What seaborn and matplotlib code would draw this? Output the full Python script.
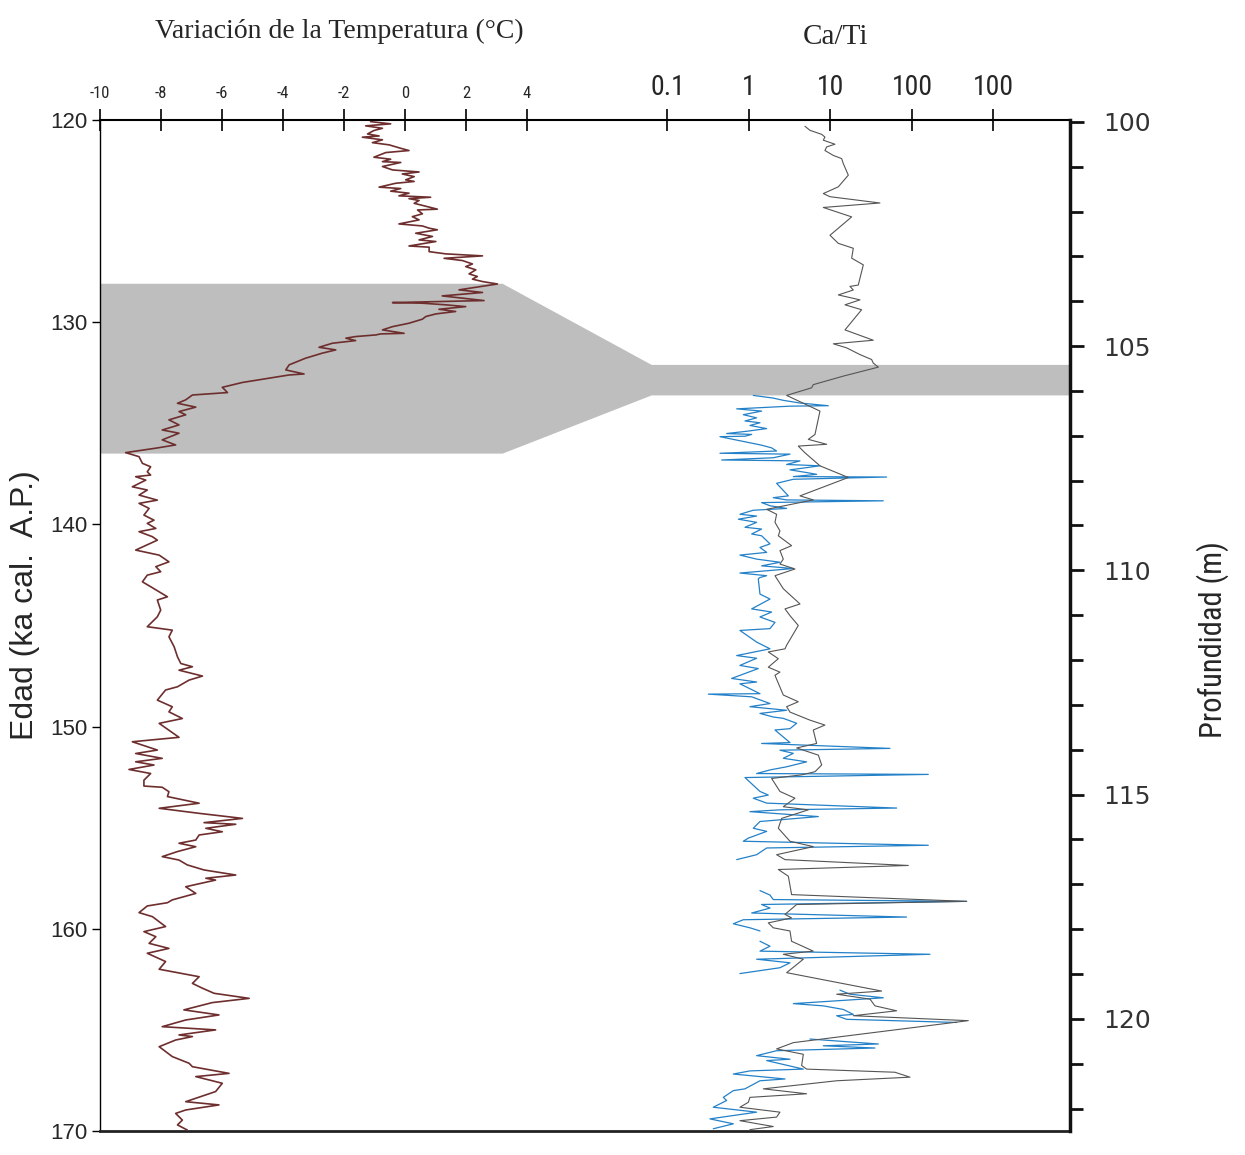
import numpy as np
import matplotlib
matplotlib.use("Agg")
import matplotlib.pyplot as plt
import seaborn as sns
from matplotlib.patches import Polygon
from matplotlib.ticker import FixedLocator, MultipleLocator, NullLocator
from matplotlib import font_manager

# ---------------- data ----------------
# Temperature anomaly (deg C) against age (ka cal. A.P.)
temp_age = [120.08, 120.19, 120.29, 120.41, 120.52, 120.69, 120.79, 120.85, 120.98, 121.12,
            121.23, 121.40, 121.51, 121.56, 121.61, 121.84, 121.94, 122.06, 122.10, 122.30,
            122.47, 122.57, 122.67, 122.80, 122.96, 123.04, 123.13, 123.32, 123.39, 123.52,
            123.62, 123.75, 123.82, 123.89, 123.98, 124.12, 124.41, 124.45, 124.64, 124.78,
            124.94, 125.14, 125.24, 125.35, 125.43, 125.60, 125.76, 125.93, 126.01, 126.23,
            126.29, 126.51, 126.62, 126.72, 126.84, 126.95, 127.12, 127.25, 127.41, 127.61,
            127.74, 127.87, 127.99, 128.11, 128.40, 128.53, 128.70, 128.93, 129.03, 129.06,
            129.14, 129.23, 129.36, 129.47, 129.59, 129.72, 129.85, 130.05, 130.22, 130.38,
            130.55, 130.58, 130.63, 130.71, 130.79, 130.91, 131.04, 131.24, 131.37, 131.53,
            131.78, 132.11, 132.36, 132.56, 132.61, 132.77, 132.98, 133.22, 133.48, 133.60,
            133.84, 134.01, 134.20, 134.42, 134.58, 134.83, 135.08, 135.33, 135.49, 135.82,
            136.07, 136.23, 136.45, 136.65, 136.98, 137.15, 137.40, 137.56, 137.64, 137.81,
            138.14, 138.30, 138.55, 138.80, 138.96, 139.21, 139.54, 139.79, 139.95, 140.20,
            140.36, 140.61, 140.78, 141.27, 141.52, 141.85, 142.09, 142.34, 142.51, 142.84,
            143.08, 143.58, 143.74, 144.24, 144.57, 145.06, 145.23, 145.56, 146.05, 146.55,
            146.88, 147.04, 147.21, 147.50, 147.70, 148.03, 148.19, 148.69, 149.02, 149.27,
            149.60, 149.84, 150.53, 150.75, 151.16, 151.33, 151.57, 151.74, 151.90, 152.12,
            152.32, 152.65, 152.94, 153.00, 153.22, 153.46, 153.79, 154.04, 154.29, 154.54,
            154.75, 154.83, 155.03, 155.20, 155.36, 155.61, 155.77, 155.94, 156.18, 156.43,
            156.60, 156.84, 157.09, 157.34, 157.50, 157.59, 157.92, 158.25, 158.57, 158.71,
            158.87, 159.20, 159.40, 159.89, 160.14, 160.39, 160.72, 160.97, 161.21, 161.62,
            162.00, 162.37, 162.70, 162.94, 163.19, 163.44, 163.65, 164.01, 164.26, 164.51,
            164.84, 165.00, 165.25, 165.33, 165.50, 165.83, 166.32, 166.65, 166.82, 167.15,
            167.31, 167.64, 168.05, 168.55, 168.71, 168.96, 169.13, 169.46, 169.70, 169.95]
temp_val = [-1.13, -0.47, -1.29, -0.74, -1.02, -1.23, -0.85, -1.40, -0.74, -1.07,
            -0.52, -0.14, 0.13, -0.25, -0.63, -1.02, -0.47, -0.74, -0.14, -0.74,
            -0.41, 0.46, -0.09, 0.30, 0.02, 0.30, -0.31, -0.85, -0.14, -0.47,
            0.13, -0.20, 0.84, 0.13, 0.46, 0.30, 1.06, 0.41, 0.57, 0.24,
            0.46, -0.20, 0.57, 0.79, 1.06, 0.35, 0.90, 0.46, 1.01, 0.13,
            0.79, 0.79, 1.33, 2.54, 1.28, 1.88, 2.21, 1.99, 2.32, 2.10,
            2.37, 2.21, 2.54, 3.03, 1.77, 2.54, 1.22, 2.59, -0.41, 0.57,
            1.33, 1.99, 1.11, 1.66, 1.01, 0.68, 0.57, 0.13, -0.41, -0.74,
            -0.03, -0.80, -0.96, -1.62, -1.94, -1.62, -2.38, -2.82, -2.27, -2.71,
            -3.26, -3.80, -3.91, -3.31, -3.80, -4.46, -5.33, -5.99, -5.82, -6.97,
            -7.19, -7.46, -6.86, -7.41, -7.19, -7.74, -7.41, -7.96, -7.41, -7.96,
            -7.52, -8.17, -9.16, -8.72, -8.61, -8.34, -8.45, -8.34, -8.83, -8.50,
            -8.94, -8.45, -8.72, -8.12, -8.72, -8.39, -8.56, -8.23, -8.45, -8.17,
            -8.72, -8.28, -8.12, -8.83, -8.06, -7.74, -8.17, -8.01, -8.45, -8.61,
            -8.34, -7.79, -8.12, -8.01, -8.12, -8.45, -7.63, -7.74, -7.57, -7.46,
            -7.35, -6.97, -7.41, -6.64, -7.08, -7.46, -7.85, -8.12, -7.63, -7.74,
            -7.30, -8.06, -7.41, -8.94, -8.12, -8.83, -7.96, -8.83, -8.23, -9.05,
            -8.34, -8.56, -8.56, -7.96, -7.74, -7.79, -6.75, -8.06, -6.75, -5.33,
            -6.59, -5.55, -6.53, -5.99, -6.75, -6.86, -7.41, -6.86, -7.46, -7.96,
            -7.41, -7.14, -6.59, -5.55, -6.53, -6.21, -7.19, -6.86, -7.63, -7.79,
            -8.45, -8.72, -8.28, -7.85, -8.56, -8.17, -8.39, -7.74, -8.45, -7.85,
            -8.06, -6.75, -6.97, -6.64, -6.26, -5.11, -6.32, -7.25, -6.10, -7.19,
            -7.96, -6.21, -7.41, -6.97, -7.52, -8.06, -7.63, -7.08, -6.97, -5.77,
            -6.86, -5.99, -6.21, -7.19, -6.10, -7.19, -7.52, -7.30, -7.46, -7.14]

# Ca/Ti (coarse record, grey) against depth (m); values given as log10(Ca/Ti)
grey_depth = [100.10, 100.19, 100.28, 100.34, 100.41, 100.50, 100.56, 100.64, 100.75, 100.82,
              100.93, 101.19, 101.45, 101.60, 101.67, 101.81, 101.91, 102.12, 102.53, 102.71,
              102.82, 103.04, 103.19, 103.64, 103.67, 103.75, 103.86, 103.97, 104.08, 104.19,
              104.64, 104.87, 104.95, 105.04, 105.19, 105.30, 105.38, 105.47, 105.67, 105.86,
              105.93, 106.10, 106.45, 106.97, 107.08, 107.19, 107.23, 107.38, 107.67, 107.93,
              108.34, 108.43, 108.64, 108.75, 108.93, 109.12, 109.23, 109.45, 109.56, 109.75,
              109.86, 109.97, 110.12, 110.41, 110.75, 110.86, 111.01, 111.23, 111.67, 111.75,
              111.82, 111.97, 112.16, 112.27, 112.34, 112.78, 112.93, 113.04, 113.16, 113.34,
              113.45, 113.56, 113.86, 113.96, 114.12, 114.34, 114.49, 114.56, 114.64, 114.93,
              115.08, 115.27, 115.34, 115.53, 115.75, 116.04, 116.16, 116.34, 116.45, 116.58,
              116.67, 116.82, 117.23, 117.38, 117.45, 117.67, 117.75, 117.86, 117.97, 118.04,
              118.27, 118.49, 118.56, 118.67, 118.97, 119.38, 119.45, 119.56, 119.71, 119.82,
              119.93, 120.04, 120.53, 120.67, 120.79, 121.04, 121.12, 121.19, 121.30, 121.38,
              121.56, 121.67, 121.75, 121.86, 121.97, 122.08, 122.19, 122.27, 122.40, 122.47]
grey_log_ca_ti = [0.687, 0.748, 0.892, 0.932, 0.912, 1.055, 0.953, 0.932, 1.035, 1.137,
                  1.157, 1.219, 1.096, 0.912, 0.994, 1.607, 0.912, 1.260, 0.994, 1.096,
                  1.280, 1.260, 1.403, 1.341, 1.239, 1.280, 1.096, 1.362, 1.178, 1.382,
                  1.178, 1.525, 1.035, 1.198, 1.362, 1.505, 1.525, 1.587, 1.157, 0.789,
                  0.769, 0.462, 0.871, 0.810, 0.728, 0.953, 0.605, 0.687, 0.871, 1.219,
                  0.626, 0.789, 0.217, 0.339, 0.319, 0.380, 0.360, 0.523, 0.380, 0.421,
                  0.380, 0.564, 0.319, 0.421, 0.626, 0.442, 0.503, 0.605, 0.462, 0.442,
                  0.237, 0.360, 0.237, 0.380, 0.319, 0.421, 0.605, 0.462, 0.503, 0.748,
                  0.932, 0.789, 0.830, 0.585, 0.851, 0.892, 0.810, 0.646, 0.278, 0.380,
                  0.564, 0.421, 0.728, 0.401, 0.360, 0.503, 0.789, 0.339, 0.442, 1.955,
                  0.360, 0.483, 0.523, 2.671, 0.585, 0.442, 0.523, 0.237, 0.298, 0.503,
                  0.523, 0.789, 0.421, 0.667, 0.462, 1.628, 1.076, 1.485, 1.546, 1.812,
                  1.280, 2.691, 0.544, 0.339, 0.667, 0.646, 0.707, 1.791, 1.975, 1.076,
                  0.176, 0.707, 0.012, -0.008, -0.111, 0.380, 0.339, -0.111, 0.298, 0.012]

# Ca/Ti (high-resolution record, blue) against depth (m); NaN marks gaps in the record
blue_depth = [106.10, 106.16, 106.21, 106.27, 106.33, 106.34, 106.40, 106.45, 106.53, 106.60,
              106.67, 106.71, 106.77, 106.84, 106.90, 106.95, 106.97, 107.01, 107.02, 107.21,
              107.27, 107.34, 107.39, 107.41, 107.49, 107.54, 107.56, 107.64, 107.67, 107.76,
              107.82, 107.86, 107.91, 107.92, 107.97, 108.06, 108.34, 108.38, 108.43, 108.45,
              108.49, 108.56, 108.62, 108.66, 108.75, 108.79, 108.86, 108.93, 109.04, 109.08,
              109.19, 109.23, 109.41, 109.49, 109.60, 109.66, 109.75, 109.82, 109.90, 109.96,
              110.06, 110.12, 110.16, 110.19, 110.53, 110.64, 110.86, 110.93, 111.04, 111.16,
              111.30, 111.34, 111.60, 111.75, 111.90, 111.96, 112.12, 112.19, 112.41, 112.49,
              112.53, 112.75, 112.76, 112.82, 112.97, 113.04, 113.12, 113.19, 113.27, 113.30,
              113.41, 113.53, 113.56, 113.84, 113.86, 113.97, 114.01, 114.08, 114.19, 114.27,
              114.38, 114.45, 114.53, 114.55, 114.62, 114.93, 115.01, 115.08, 115.19, 115.30,
              115.34, 115.38, 115.49, 115.60, 115.75, 115.82, 115.97, 116.04, 116.13, 116.19,
              116.34, 116.45, 116.80, 117.14, 117.24, 117.34, 117.38, 117.45, 117.53, 117.64,
              117.73, 117.79, 117.88, 117.97, 118.04, 118.15, 118.27, 118.38, 118.49, 118.56,
              118.67, 118.75, 118.86, 118.99, 119.20, 119.36, 119.45, 119.53, 119.66, 119.71,
              119.79, 119.90, 119.93, 120.01, 120.08, 120.30, 120.45, 120.56, 120.60, 120.65,
              120.71, 120.82, 120.90, 120.93, 121.12, 121.16, 121.23, 121.34, 121.38, 121.56,
              121.60, 121.75, 121.82, 121.97, 122.08, 122.23, 122.34, 122.45]
blue_log_ca_ti = [0.053, 0.298, 0.421, 0.626, 0.973, 0.503, -0.151, 0.155, -0.070, 0.094,
                  -0.049, 0.135, 0.012, 0.217, -0.029, -0.274, 0.033, -0.049, -0.356, 0.155,
                  0.278, 0.339, -0.356, 0.503, 0.298, -0.335, 0.626, 0.462, 0.871, 0.503,
                  0.707, 0.830, 0.544, 1.689, 0.544, 0.339, 0.483, 0.298, 0.462, 1.648,
                  0.155, 0.258, 0.462, 0.053, -0.111, 0.094, -0.131, 0.094, -0.049, 0.155,
                  0.033, 0.155, 0.258, 0.135, 0.217, -0.111, 0.094, 0.380, 0.155, 0.544,
                  -0.111, 0.217, 0.135, 0.114, 0.135, 0.258, 0.033, 0.278, 0.135, 0.319,
                  0.258, -0.111, 0.094, 0.258, -0.151, 0.094, -0.111, 0.114, -0.213, 0.094,
                  -0.111, 0.135, -0.499, 0.033, 0.258, 0.012, 0.462, 0.135, 0.298, 0.421,
                  0.585, 0.503, 0.319, 0.503, 0.155, 1.730, 0.380, 0.544, 0.421, 0.707,
                  0.462, 0.258, 0.094, 2.200, -0.049, 0.135, 0.237, 0.053, 0.217, 1.812,
                  0.380, 0.012, 0.851, 0.135, 0.053, 0.217, -0.008, -0.070, 2.200, 0.217,
                  0.094, -0.151, np.nan, 0.135, 0.258, 0.298, 2.671, 0.155, 0.258, 0.033,
                  1.934, -0.070, -0.192, 0.012, 0.135, np.nan, 0.135, 0.258, 0.135, 2.221,
                  0.094, 0.503, 0.380, -0.111, np.nan, 1.116, 1.239, 1.648, 0.544, 0.912,
                  1.157, 1.280, 1.076, 1.198, 2.548, np.nan, 0.748, 1.587, 0.912, 1.546,
                  0.339, 0.094, 0.503, 0.217, 0.667, 0.012, -0.192, 0.442, 0.135, -0.049,
                  -0.192, -0.315, -0.274, -0.438, 0.094, -0.479, -0.192, -0.438]

# shaded correlation band: age interval (left), depth interval (right)
band_age = (128.1, 136.5)
band_depth = (105.42, 106.1)
band_temp_edge = 3.2
band_ca_ti_edge = 0.064

temp_ticks = [-10, -8, -6, -4, -2, 0, 2, 4]
ca_ti_ticks = [0.1, 1, 10, 100, 1000]
ca_ti_ticklabels = ["0.1", "1", "10", "100", "100"]
age_ticks = [120, 130, 140, 150, 160, 170]

# ---------------- fonts ----------------
installed = {f.name for f in font_manager.fontManager.ttflist}
def pick(cands):
    return [c for c in cands if c in installed] or ['DejaVu Sans']
NARROW = pick(['Liberation Sans Narrow', 'DejaVu Sans Condensed', 'Roboto Condensed',
               'Open Sans Condensed', 'Liberation Sans'])
NARROW_SERIF = pick(['DejaVu Serif Condensed', 'Liberation Serif', 'DejaVu Serif'])

# ---------------- figure ----------------
sns.set_theme(style="white")
plt.rcParams['font.family'] = ['Liberation Sans', 'DejaVu Sans']

fig = plt.figure(figsize=(12.45, 11.55), dpi=100)
rect = [100 / 1245, 1 - 1131 / 1155, 970 / 1245, 1011 / 1155]
ax = fig.add_axes(rect)
ax_ct = fig.add_axes(rect, facecolor='none')

TEMP_LIM = (-10, 21.8)
CT_LIM = (10 ** -7.963, 10 ** 3.939)
AGE_LIM = (170, 120)
DEPTH_LIM = (122.5, 99.96)

# temperature curve
sns.lineplot(x=temp_val, y=temp_age, sort=False, estimator=None, color='#6e2e2e',
             linewidth=1.2, ax=ax, zorder=3)
ax.set_xlim(*TEMP_LIM)
ax.set_ylim(*AGE_LIM)

# Ca/Ti curves
ax_ct.set_xscale('log')
grey_ct = 10 ** np.array(grey_log_ca_ti)
sns.lineplot(x=grey_ct, y=grey_depth, sort=False, estimator=None, color='#555555',
             linewidth=0.8, ax=ax_ct, zorder=4)
blue_ct = 10 ** np.array(blue_log_ca_ti)
blue_d = np.array(blue_depth)
seg_breaks = np.where(np.isnan(blue_ct))[0]
starts = np.concatenate([[0], seg_breaks + 1])
ends = np.concatenate([seg_breaks, [len(blue_ct)]])
for s, e in zip(starts, ends):
    sns.lineplot(x=blue_ct[s:e], y=blue_d[s:e], sort=False, estimator=None,
                 color='#2481c8', linewidth=0.9, ax=ax_ct, zorder=3)
ax_ct.set_xlim(*CT_LIM)
ax_ct.set_ylim(*DEPTH_LIM)

# ---- axes styling: temperature / age
ax.set_xlabel("")
ax.set_ylabel("")
ax.xaxis.tick_top()
ax.xaxis.set_major_locator(FixedLocator(temp_ticks))
ax.set_xticklabels([str(t) for t in temp_ticks], family=NARROW, fontsize=12)
ax.tick_params(axis='x', direction='inout', length=16, width=1.2, color='black', pad=6,
               top=True, bottom=False)
ax.yaxis.set_major_locator(FixedLocator(age_ticks))
ax.set_yticklabels([str(a) for a in age_ticks], fontsize=16)
ax.tick_params(axis='y', direction='out', length=6, width=1.0, color='black', left=True, pad=3)
ax.grid(False)
ax.spines['right'].set_visible(False)
ax.spines['left'].set_color('black'); ax.spines['left'].set_linewidth(1.0)
ax.spines['top'].set_color('black'); ax.spines['top'].set_linewidth(1.5)
ax.spines['bottom'].set_color('#222222'); ax.spines['bottom'].set_linewidth(2.0)

# ---- axes styling: Ca/Ti / depth
ax_ct.set_xlabel("")
ax_ct.set_ylabel("")
ax_ct.xaxis.tick_top()
ax_ct.xaxis.set_major_locator(FixedLocator(ca_ti_ticks))
ax_ct.xaxis.set_minor_locator(NullLocator())
ax_ct.set_xticklabels(ca_ti_ticklabels, family=NARROW, fontsize=20)
ax_ct.tick_params(axis='x', which='major', direction='inout', length=16, width=1.2,
                  color='black', pad=6, top=True, bottom=False)
ax_ct.yaxis.tick_right()
ax_ct.yaxis.set_major_locator(MultipleLocator(5))
ax_ct.yaxis.set_minor_locator(MultipleLocator(1))
ax_ct.tick_params(axis='y', which='major', direction='out', length=10, width=2.0,
                  color='#111111', labelsize=18, labelcolor='#333333', pad=14, right=True, left=False)
ax_ct.tick_params(axis='y', which='minor', direction='out', length=9, width=2.0,
                  color='#111111', right=True, left=False)
for lbl in ax_ct.get_yticklabels():
    lbl.set_family(['DejaVu Sans'])
ax_ct.grid(False)
for side in ['left', 'top', 'bottom']:
    ax_ct.spines[side].set_visible(False)
ax_ct.spines['right'].set_color('#111111'); ax_ct.spines['right'].set_linewidth(2.5)

# ---- shaded band linking both records
to_fig = fig.transFigure.inverted()
def p_temp(t, a):
    return to_fig.transform(ax.transData.transform((t, a)))
def p_ct(c, d):
    return to_fig.transform(ax_ct.transData.transform((c, d)))
verts = [p_temp(TEMP_LIM[0], band_age[0]), p_temp(band_temp_edge, band_age[0]),
         p_ct(band_ca_ti_edge, band_depth[0]), p_ct(CT_LIM[1], band_depth[0]),
         p_ct(CT_LIM[1], band_depth[1]), p_ct(band_ca_ti_edge, band_depth[1]),
         p_temp(band_temp_edge, band_age[1]), p_temp(TEMP_LIM[0], band_age[1])]
band = Polygon(verts, closed=True, transform=fig.transFigure, facecolor='#bebebe',
               edgecolor='none', zorder=0.5)
ax.add_patch(band)

# ---- titles and axis labels
fig.text(339 / 1245, 1 - 31 / 1155, "Variación de la Temperatura (°C)", ha='center', va='center',
         family=NARROW_SERIF, fontsize=20)
fig.text(836 / 1245, 1 - 37 / 1155, "Ca/Ti", ha='center', va='center',
         family=NARROW_SERIF, fontsize=21)
fig.text(25 / 1245, 1 - 605 / 1155, "Edad (ka cal.  A.P.)", rotation=90, ha='center', va='center',
         fontsize=23)
fig.text(1213 / 1245, 1 - 640 / 1155, "Profundidad (m)", rotation=90, ha='center', va='center',
         family=NARROW, fontsize=22)

fig.savefig("out.png", dpi=100)
